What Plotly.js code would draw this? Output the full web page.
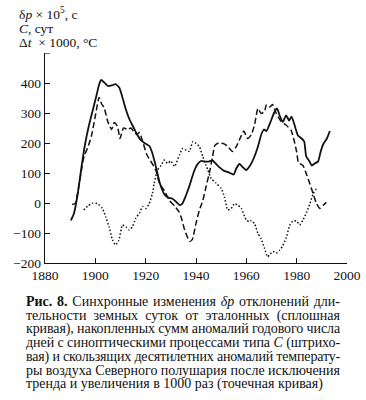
<!DOCTYPE html>
<html><head><meta charset="utf-8">
<script src="https://cdn.plot.ly/plotly-3.0.1.min.js"></script>
<style>
body{margin:0;background:#fff;}
#wrap{position:relative;width:366px;height:400px;overflow:hidden;}
#chart{position:absolute;left:0;top:0;width:366px;height:400px;}
#cap{position:absolute;left:26px;top:295px;width:314px;font-family:"Liberation Serif","DejaVu Serif",serif;font-size:14px;line-height:13.7px;color:#111;}
#cap div{text-align:justify;text-align-last:justify;white-space:nowrap;}
#cap div.last{text-align-last:left;}
</style></head><body>
<div id="wrap"><div id="chart"></div>
<div id="cap">
<div><b>Рис. 8.</b> Синхронные изменения <i>δp</i> отклонений дли-</div>
<div>тельности земных суток от эталонных (сплошная</div>
<div>кривая), накопленных сумм аномалий годового числа</div>
<div>дней с синоптическими процессами типа <i>C</i> (штрихо-</div>
<div>вая) и скользящих десятилетних аномалий температу-</div>
<div>ры воздуха Северного полушария после исключения</div>
<div class="last">тренда и увеличения в 1000 раз (точечная кривая)</div>
</div></div>
<script>
const solidYears=[1890.3,1891.5,1893,1894.5,1896,1897.5,1899,1900.5,1901.5,1902.3,1903.5,1905,1906.5,1908,1909.5,1910.5,1912,1913.5,1915,1916.5,1918,1919.5,1921.5,1922.5,1923.5,1924.5,1925.5,1926.5,1927.5,1929,1930.5,1932,1933.5,1934.5,1936,1937.5,1939,1940.5,1942,1943.5,1945,1946.5,1948,1949.5,1951,1953,1955,1956,1957.3,1958.5,1960,1961.5,1963,1964.5,1966,1967,1968,1969.5,1971,1972.2,1973.3,1974.5,1975.8,1977,1978,1979.5,1980.5,1982,1983,1983.8,1985,1986,1987.2,1988.5,1989.5,1990.5,1992,1993.2];
const solidVals=[-58,-35,30,120,200,260,310,360,395,410,402,390,392,396,385,360,315,280,255,230,210,200,190,170,140,105,70,45,28,18,15,5,-7,-3,25,60,100,128,140,138,138,142,130,118,108,102,95,115,130,120,110,125,150,185,230,245,240,268,300,315,290,270,292,275,288,250,225,215,205,155,140,125,132,138,170,195,215,240];
const dashYears=[1890.8,1892,1893.3,1894.5,1895.5,1897,1898.5,1900,1901.5,1902.5,1903.5,1905,1906.5,1907.5,1908.8,1909.8,1911.2,1912.8,1914.2,1915.5,1916.5,1917.5,1919,1920.5,1922,1924,1925.5,1927.5,1929.5,1931.5,1933.3,1934.2,1935.5,1937.5,1938.5,1940,1941.3,1942.7,1944,1945.3,1946.5,1947.5,1949,1951,1952.5,1954.5,1956,1957.5,1959,1960.5,1962,1963.3,1964.6,1965.9,1967.2,1968,1969.2,1970.5,1971.8,1973.8,1975.8,1977.8,1978.8,1980,1980.7,1982.5,1983.5,1985,1986.5,1987.8,1989.2,1990.5,1991.8];
const dashVals=[-5,-2,50,110,155,185,225,290,352,330,318,270,245,268,255,215,250,245,250,235,228,235,200,160,140,110,65,40,8,-10,-30,-50,-90,-128,-122,-68,-25,8,55,100,150,192,200,198,190,172,188,215,240,215,228,262,315,298,305,328,320,328,300,272,260,242,215,170,135,125,105,70,32,0,-18,-8,2];
const dotYears=[1895.4,1897,1898.8,1900.8,1902.8,1904.1,1905.5,1906.8,1908,1909.3,1910.8,1912.2,1913.5,1914.8,1916.1,1917.5,1918.8,1920.1,1921.4,1922.7,1923.4,1924.7,1926.1,1927.4,1928.7,1930,1931.5,1933.4,1934.7,1936.1,1937.4,1938.7,1940,1941.4,1942.7,1944.7,1946,1948,1950,1951.3,1952.6,1954,1955.3,1956.6,1958,1960,1961.3,1962,1963.3,1964.6,1965.9,1967.3,1968.4,1969.5,1970.6,1971.9,1973.2,1974.5,1975.9,1977.2,1978.5,1979.9,1981.2,1982.5,1983.9,1985.2,1986.5,1987.8,1988.5];
const dotVals=[-23,-10,-1,-2,-18,-46,-80,-123,-140,-125,-73,-80,-90,-78,-50,-34,-12,-18,-2,32,66,110,125,143,132,140,122,160,182,176,172,204,199,187,154,110,82,66,49,21,-23,-18,-2,-7,-18,-57,-62,-58,-70,-101,-120,-153,-179,-170,-162,-167,-158,-142,-115,-75,-60,-60,-73,-57,-32,-4,30,46,44];
const xTicks=[1880,1900,1920,1940,1960,1980,2000];
const yTicks=[-200,-100,0,100,200,300,400];
const yTickText=['−200','−100','0','100','200','300','400'];
const yTop=500;

document.querySelectorAll('#cap div').forEach(function(d){
  var s=document.createElement('span');s.innerHTML=d.innerHTML;s.style.whiteSpace='nowrap';
  s.style.position='absolute';s.style.visibility='hidden';s.style.font=getComputedStyle(d).font;
  document.body.appendChild(s);var w=s.getBoundingClientRect().width;document.body.removeChild(s);
  if(w>314){var n=d.textContent.length;d.style.letterSpacing=((314-w)/n)+'px';}
});

const font={family:'"Liberation Serif","DejaVu Serif",serif',size:13.5,color:'#111'};
const traces=[
 {x:solidYears,y:solidVals,mode:'lines',line:{color:'#111',width:1.8,shape:'spline',smoothing:0.5}},
 {x:dashYears,y:dashVals,mode:'lines',line:{color:'#111',width:1.5,dash:'6px,3px',shape:'spline',smoothing:0.5}},
 {x:dotYears,y:dotVals,mode:'lines',line:{color:'#111',width:1.5,dash:'1.5px,2px',shape:'spline',smoothing:0.5}}
];
const layout={
 width:366,height:400,margin:{l:45,r:19,t:53,b:137},
 paper_bgcolor:'#fff',plot_bgcolor:'#fff',showlegend:false,font:font,
 xaxis:{range:[1880,2000],tickvals:xTicks,ticks:'inside',ticklen:5,tickcolor:'#111',showgrid:false,zeroline:false,showline:true,linecolor:'#111',linewidth:1.2,tickfont:font},
 yaxis:{range:[-200,yTop],tickvals:yTicks,ticktext:yTickText,ticks:'inside',ticklen:5,tickcolor:'#111',showgrid:false,zeroline:false,showline:true,linecolor:'#111',linewidth:1.2,tickfont:font},
 shapes:[{type:'line',xref:'paper',yref:'y',x0:0,x1:0.017,y0:yTop,y1:yTop,line:{color:'#111',width:1.2}}],
 annotations:[
  {xref:'paper',yref:'paper',x:-0.094,y:1.19,xanchor:'left',yanchor:'middle',showarrow:false,align:'left',font:font,text:'δ<i>p</i> × 10<sup>5</sup>, с'},
  {xref:'paper',yref:'paper',x:-0.094,y:1.119,xanchor:'left',yanchor:'middle',showarrow:false,align:'left',font:font,text:'<i>C</i>, сут'},
  {xref:'paper',yref:'paper',x:-0.094,y:1.052,xanchor:'left',yanchor:'middle',showarrow:false,align:'left',font:font,text:'Δ<i>t</i>  × 1000, °C'}
 ]
};
Plotly.newPlot('chart',traces,layout,{displayModeBar:false,staticPlot:true});
</script></body></html>
